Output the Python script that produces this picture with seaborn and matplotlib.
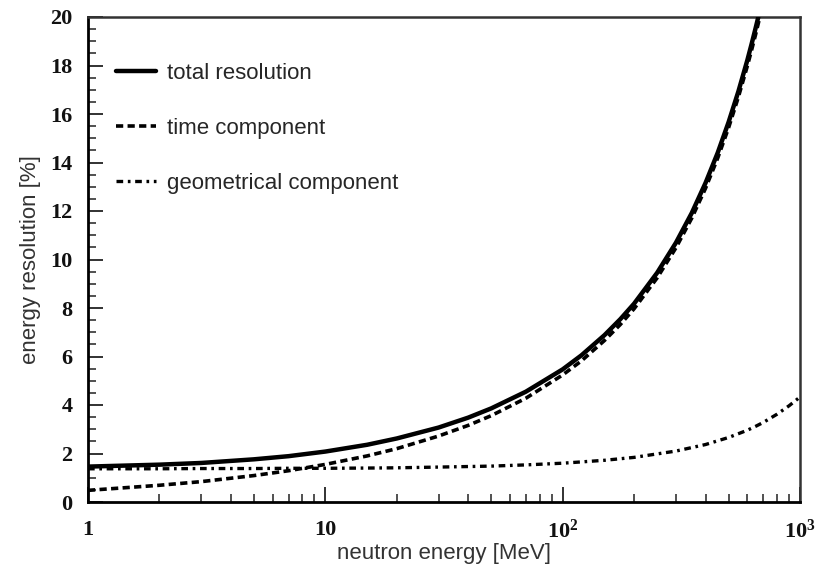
import matplotlib
matplotlib.use("Agg")
import matplotlib.pyplot as plt
import numpy as np
import pandas as pd
import seaborn as sns
from matplotlib.ticker import FixedLocator, MultipleLocator, NullFormatter

# ---- data ----
energy_steep = [1, 2, 3, 5, 7, 10, 15, 20, 30, 40, 50, 70, 100, 120, 150, 175,
                200, 250, 300, 350, 400, 450, 500, 550, 600, 625, 650, 675, 700]
total_resolution = [1.46, 1.54, 1.61, 1.76, 1.89, 2.08, 2.36, 2.62, 3.07, 3.48,
                    3.86, 4.55, 5.47, 6.05, 6.88, 7.54, 8.18, 9.45, 10.69, 11.92,
                    13.16, 14.40, 15.66, 16.93, 18.22, 18.88, 19.54, 20.20, 20.87]
time_component = [0.48, 0.69, 0.84, 1.09, 1.29, 1.55, 1.90, 2.20, 2.72, 3.16,
                  3.56, 4.28, 5.24, 5.82, 6.66, 7.32, 7.97, 9.24, 10.48, 11.71,
                  12.94, 14.18, 15.43, 16.70, 17.98, 18.63, 19.28, 19.94, 20.61]
energy_geo = [1, 2, 3, 5, 7, 10, 15, 20, 30, 50, 70, 100, 150, 200, 300, 400,
              500, 600, 650, 700, 800, 900, 1000]
geometrical_component = [1.37, 1.37, 1.38, 1.38, 1.39, 1.39, 1.40, 1.41, 1.44,
                         1.48, 1.53, 1.60, 1.72, 1.84, 2.10, 2.37, 2.66, 2.96,
                         3.12, 3.28, 3.62, 3.97, 4.33]
series_labels = ["total resolution", "time component", "geometrical component"]
x_tick_values = [1, 10, 100, 1000]
x_tick_labels = ["1", "10", r"$\mathbf{10^{2}}$", r"$\mathbf{10^{3}}$"]
y_tick_values = list(range(0, 21, 2))

sns.set_theme(style="ticks")
plt.rcParams["font.family"] = ["Liberation Sans", "DejaVu Sans"]
plt.rcParams["mathtext.fontset"] = "custom"
plt.rcParams["mathtext.bf"] = "Liberation Serif:bold"
plt.rcParams["mathtext.rm"] = "Liberation Serif:bold"
plt.rcParams["mathtext.it"] = "Liberation Serif:bold"

df_total = pd.DataFrame({"energy": energy_steep, "value": total_resolution})
df_time = pd.DataFrame({"energy": energy_steep, "value": time_component})
df_geo = pd.DataFrame({"energy": energy_geo, "value": geometrical_component})

fig, ax = plt.subplots(figsize=(8.25, 5.74), dpi=100)

sns.lineplot(data=df_total, x="energy", y="value", ax=ax, color="black",
             linewidth=3.2, label=series_labels[0], zorder=4)
sns.lineplot(data=df_time, x="energy", y="value", ax=ax, color="black",
             linewidth=2.6, linestyle=(0, (2.0, 1.2)), label=series_labels[1], zorder=3)
sns.lineplot(data=df_geo, x="energy", y="value", ax=ax, color="black",
             linewidth=2.4, linestyle=(0, (2.0, 1.4, 0.8, 1.4)),
             label=series_labels[2], zorder=3)

ax.set_xscale("log")
ax.set_xlim(1, 1000)
ax.set_ylim(0, 20)

ax.xaxis.set_major_locator(FixedLocator(x_tick_values))
ax.xaxis.set_minor_locator(FixedLocator(
    [m * 10 ** d for d in range(3) for m in range(2, 10)]))
ax.xaxis.set_minor_formatter(NullFormatter())
ax.set_xticks(x_tick_values)
ax.set_xticklabels(x_tick_labels)
ax.set_yticks(y_tick_values)
ax.set_yticklabels([str(v) for v in y_tick_values])
ax.yaxis.set_minor_locator(MultipleLocator(0.5))

for lab in ax.get_xticklabels() + ax.get_yticklabels():
    lab.set_fontfamily("Liberation Serif")
    lab.set_fontweight("bold")
    lab.set_fontsize(16)
    lab.set_color("#111111")

ax.tick_params(which="both", direction="in", top=False, right=False,
               color="#222222")
ax.tick_params(which="major", length=11, width=1.3)
ax.tick_params(which="minor", length=5.5, width=1.1)
ax.tick_params(axis="y", which="major", pad=11)
ax.tick_params(axis="x", which="major", pad=13)

for side in ["left", "bottom"]:
    ax.spines[side].set_linewidth(2.0)
    ax.spines[side].set_color("black")
for side in ["top", "right"]:
    ax.spines[side].set_visible(True)
    ax.spines[side].set_linewidth(1.8)
    ax.spines[side].set_color("#333333")

ax.set_xlabel("neutron energy [MeV]", fontsize=16, color="#333333", labelpad=0)
ax.set_ylabel("energy resolution [%]", fontsize=16, color="#333333", labelpad=7)

ax.legend(loc="upper left", bbox_to_anchor=(116 / 825, 1 - 63 / 574),
          bbox_transform=fig.transFigure, frameon=False, fontsize=16,
          handlelength=1.8, handletextpad=0.5, labelspacing=1.52,
          borderpad=0, borderaxespad=0)

ax.set_position([88 / 825, 1 - 502 / 574, (800 - 88) / 825, (502 - 17) / 574])
fig.savefig("out.png", dpi=100)
